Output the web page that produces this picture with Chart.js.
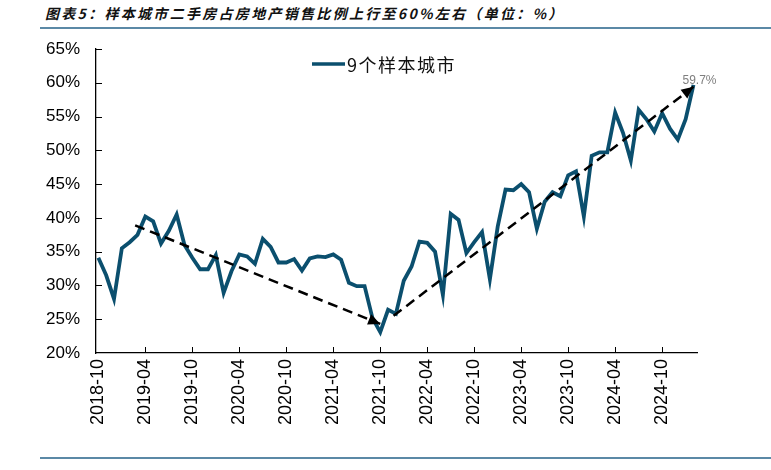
<!DOCTYPE html>
<html>
<head>
<meta charset="utf-8">
<script src="https://cdn.jsdelivr.net/npm/chart.js@4.4.1/dist/chart.umd.min.js"></script>
<style>
  body { margin: 0; background: #fff; }
  #wrap { position: relative; width: 771px; height: 470px; }
  #title {
    position: absolute; left: 45px; top: 3px;
    font: italic bold 14px "Noto Sans CJK SC", sans-serif;
    letter-spacing: 2.3px; color: #111; white-space: nowrap;
  }
  .rule { position: absolute; left: 40px; right: 0; height: 2px; background: #5b89a6; }
  canvas { position: absolute; left: 0; top: 0; }
</style>
</head>
<body>
<div id="wrap">
  <div id="title">图表5：样本城市二手房占房地产销售比例上行至60%左右（单位：%）</div>
  <div class="rule" style="top:27px"></div>
  <canvas id="chart" width="771" height="470"></canvas>
  <div class="rule" style="top:457px"></div>
</div>
<script>
// 9个样本城市 二手房成交占比, 2018-10 ~ 2025-02, 月度
const seriesName = "9个样本城市";
const share = [
  34.1, 31.5, 28.0, 35.5, 36.4, 37.5, 40.2, 39.5, 36.2, 38.1, 40.5, 36.0,
  34.1, 32.4, 32.4, 34.5, 28.9, 32.1, 34.6, 34.3, 33.2, 36.9, 35.7, 33.4,
  33.4, 33.9, 32.2, 34.0, 34.3, 34.2, 34.6, 33.8, 30.4, 29.9, 29.9, 25.2,
  23.1, 26.4, 25.8, 30.7, 32.8, 36.5, 36.3, 35.0, 28.6, 40.6, 39.7, 34.8,
  36.4, 37.9, 30.9, 38.7, 44.2, 44.1, 45.0, 43.8, 38.4, 42.4, 43.8, 43.2,
  46.3, 46.9, 40.2, 49.2, 49.7, 49.7, 55.6, 52.6, 48.5, 56.0, 54.6, 52.8,
  55.5, 53.2, 51.6, 54.6, 59.7
];
const tickIndex = [0, 6, 12, 18, 24, 30, 36, 42, 48, 54, 60, 66, 72];
const tickLabels = ["2018-10", "2019-04", "2019-10", "2020-04", "2020-10", "2021-04",
  "2021-10", "2022-04", "2022-10", "2023-04", "2023-10", "2024-04", "2024-10"];
// 趋势箭头 (x 为月序号)
const trendDown = [{ x: 4.7, y: 38.9 }, { x: 36.0, y: 24.3 }];
const trendUp = [{ x: 37.7, y: 25.5 }, { x: 76.0, y: 59.4 }];
const lastLabel = "59.7%";

const lineColor = "#0b4f6e";
const points = share.map((v, i) => ({ x: i, y: v }));

// 箭头 + 数据标签 + 内向刻度 + 图例
const extras = {
  id: "extras",
  afterDatasetsDraw(chart) {
    const ctx = chart.ctx;
    const area = chart.chartArea;
    const xs = chart.scales.x, ys = chart.scales.y;
    ctx.save();
    ctx.strokeStyle = "#000";
    ctx.lineWidth = 1;
    for (let v = 25; v <= 65; v += 5) {
      const py = Math.round(ys.getPixelForValue(v)) + 0.5;
      ctx.beginPath(); ctx.moveTo(area.left, py); ctx.lineTo(area.left + 6, py); ctx.stroke();
    }
    tickIndex.slice(1).forEach(t => {
      const px = Math.round(xs.getPixelForValue(t)) + 0.5;
      ctx.beginPath(); ctx.moveTo(px, area.bottom); ctx.lineTo(px, area.bottom - 6); ctx.stroke();
    });
    chart.data.datasets.forEach((ds, i) => {
      if (!ds.arrow) return;
      const pts = chart.getDatasetMeta(i).data;
      const a = pts[pts.length - 2], b = pts[pts.length - 1];
      const ang = Math.atan2(b.y - a.y, b.x - a.x);
      ctx.save();
      ctx.translate(b.x, b.y);
      ctx.rotate(ang);
      ctx.fillStyle = "#000";
      ctx.beginPath();
      ctx.moveTo(0, 0); ctx.lineTo(-12, -5.5); ctx.lineTo(-12, 5.5); ctx.closePath();
      ctx.fill();
      ctx.restore();
    });
    const m = chart.getDatasetMeta(0).data;
    const last = m[m.length - 1];
    ctx.fillStyle = "#7f7f7f";
    ctx.font = '12px "Liberation Sans", Arial, sans-serif';
    ctx.textAlign = "center";
    ctx.textBaseline = "bottom";
    ctx.fillText(lastLabel, last.x + 6, last.y + 2);

    // legend inside plot area
    const lx = area.left + 216, ly = area.top + 15;
    ctx.strokeStyle = lineColor;
    ctx.lineWidth = 3.5;
    ctx.beginPath(); ctx.moveTo(lx, ly); ctx.lineTo(lx + 33, ly); ctx.stroke();
    ctx.fillStyle = "#111";
    ctx.font = '18px "Noto Sans CJK SC", sans-serif';
    ctx.letterSpacing = "1.5px";
    ctx.textAlign = "left";
    ctx.textBaseline = "middle";
    ctx.fillText(seriesName, lx + 35, ly + 1);
    ctx.restore();
  }
};

new Chart(document.getElementById("chart"), {
  type: "line",
  data: {
    datasets: [
      {
        label: seriesName, data: points, borderColor: lineColor, backgroundColor: lineColor,
        borderWidth: 3.8, pointRadius: 0, tension: 0, order: 1
      },
      {
        label: "down", data: trendDown, arrow: true, borderColor: "#000", borderWidth: 2.5,
        borderDash: [10, 6], pointRadius: 0, order: 0
      },
      {
        label: "up", data: trendUp, arrow: true, borderColor: "#000", borderWidth: 2.5,
        borderDash: [10, 6], pointRadius: 0, order: 0
      }
    ]
  },
  options: {
    responsive: false,
    animation: false,
    layout: { padding: { top: 49, right: 74, left: 0, bottom: 0 } },
    plugins: {
      legend: { display: false },
      tooltip: { enabled: false }
    },
    scales: {
      x: {
        type: "linear",
        min: -0.3,
        max: 76.45,
        afterFit: s => { s.height = 117; },
        afterBuildTicks: s => { s.ticks = tickIndex.map(v => ({ value: v })); },
        grid: { display: false, drawTicks: false },
        border: { display: true, color: "#000", width: 1.3 },
        ticks: {
          autoSkip: false, minRotation: 90, maxRotation: 90, padding: 6,
          color: "#000",
          font: { family: '"Liberation Sans", Arial, sans-serif', size: 18 },
          callback: v => tickLabels[tickIndex.indexOf(v)]
        }
      },
      y: {
        min: 20,
        max: 65,
        afterFit: s => { s.width = 96; },
        grid: { display: false, drawTicks: false },
        border: { display: true, color: "#000", width: 1.3 },
        ticks: {
          stepSize: 5, padding: 16, color: "#000",
          font: { family: '"Liberation Sans", Arial, sans-serif', size: 17 },
          callback: v => v + "%"
        }
      }
    }
  },
  plugins: [extras]
});
</script>
</body>
</html>
